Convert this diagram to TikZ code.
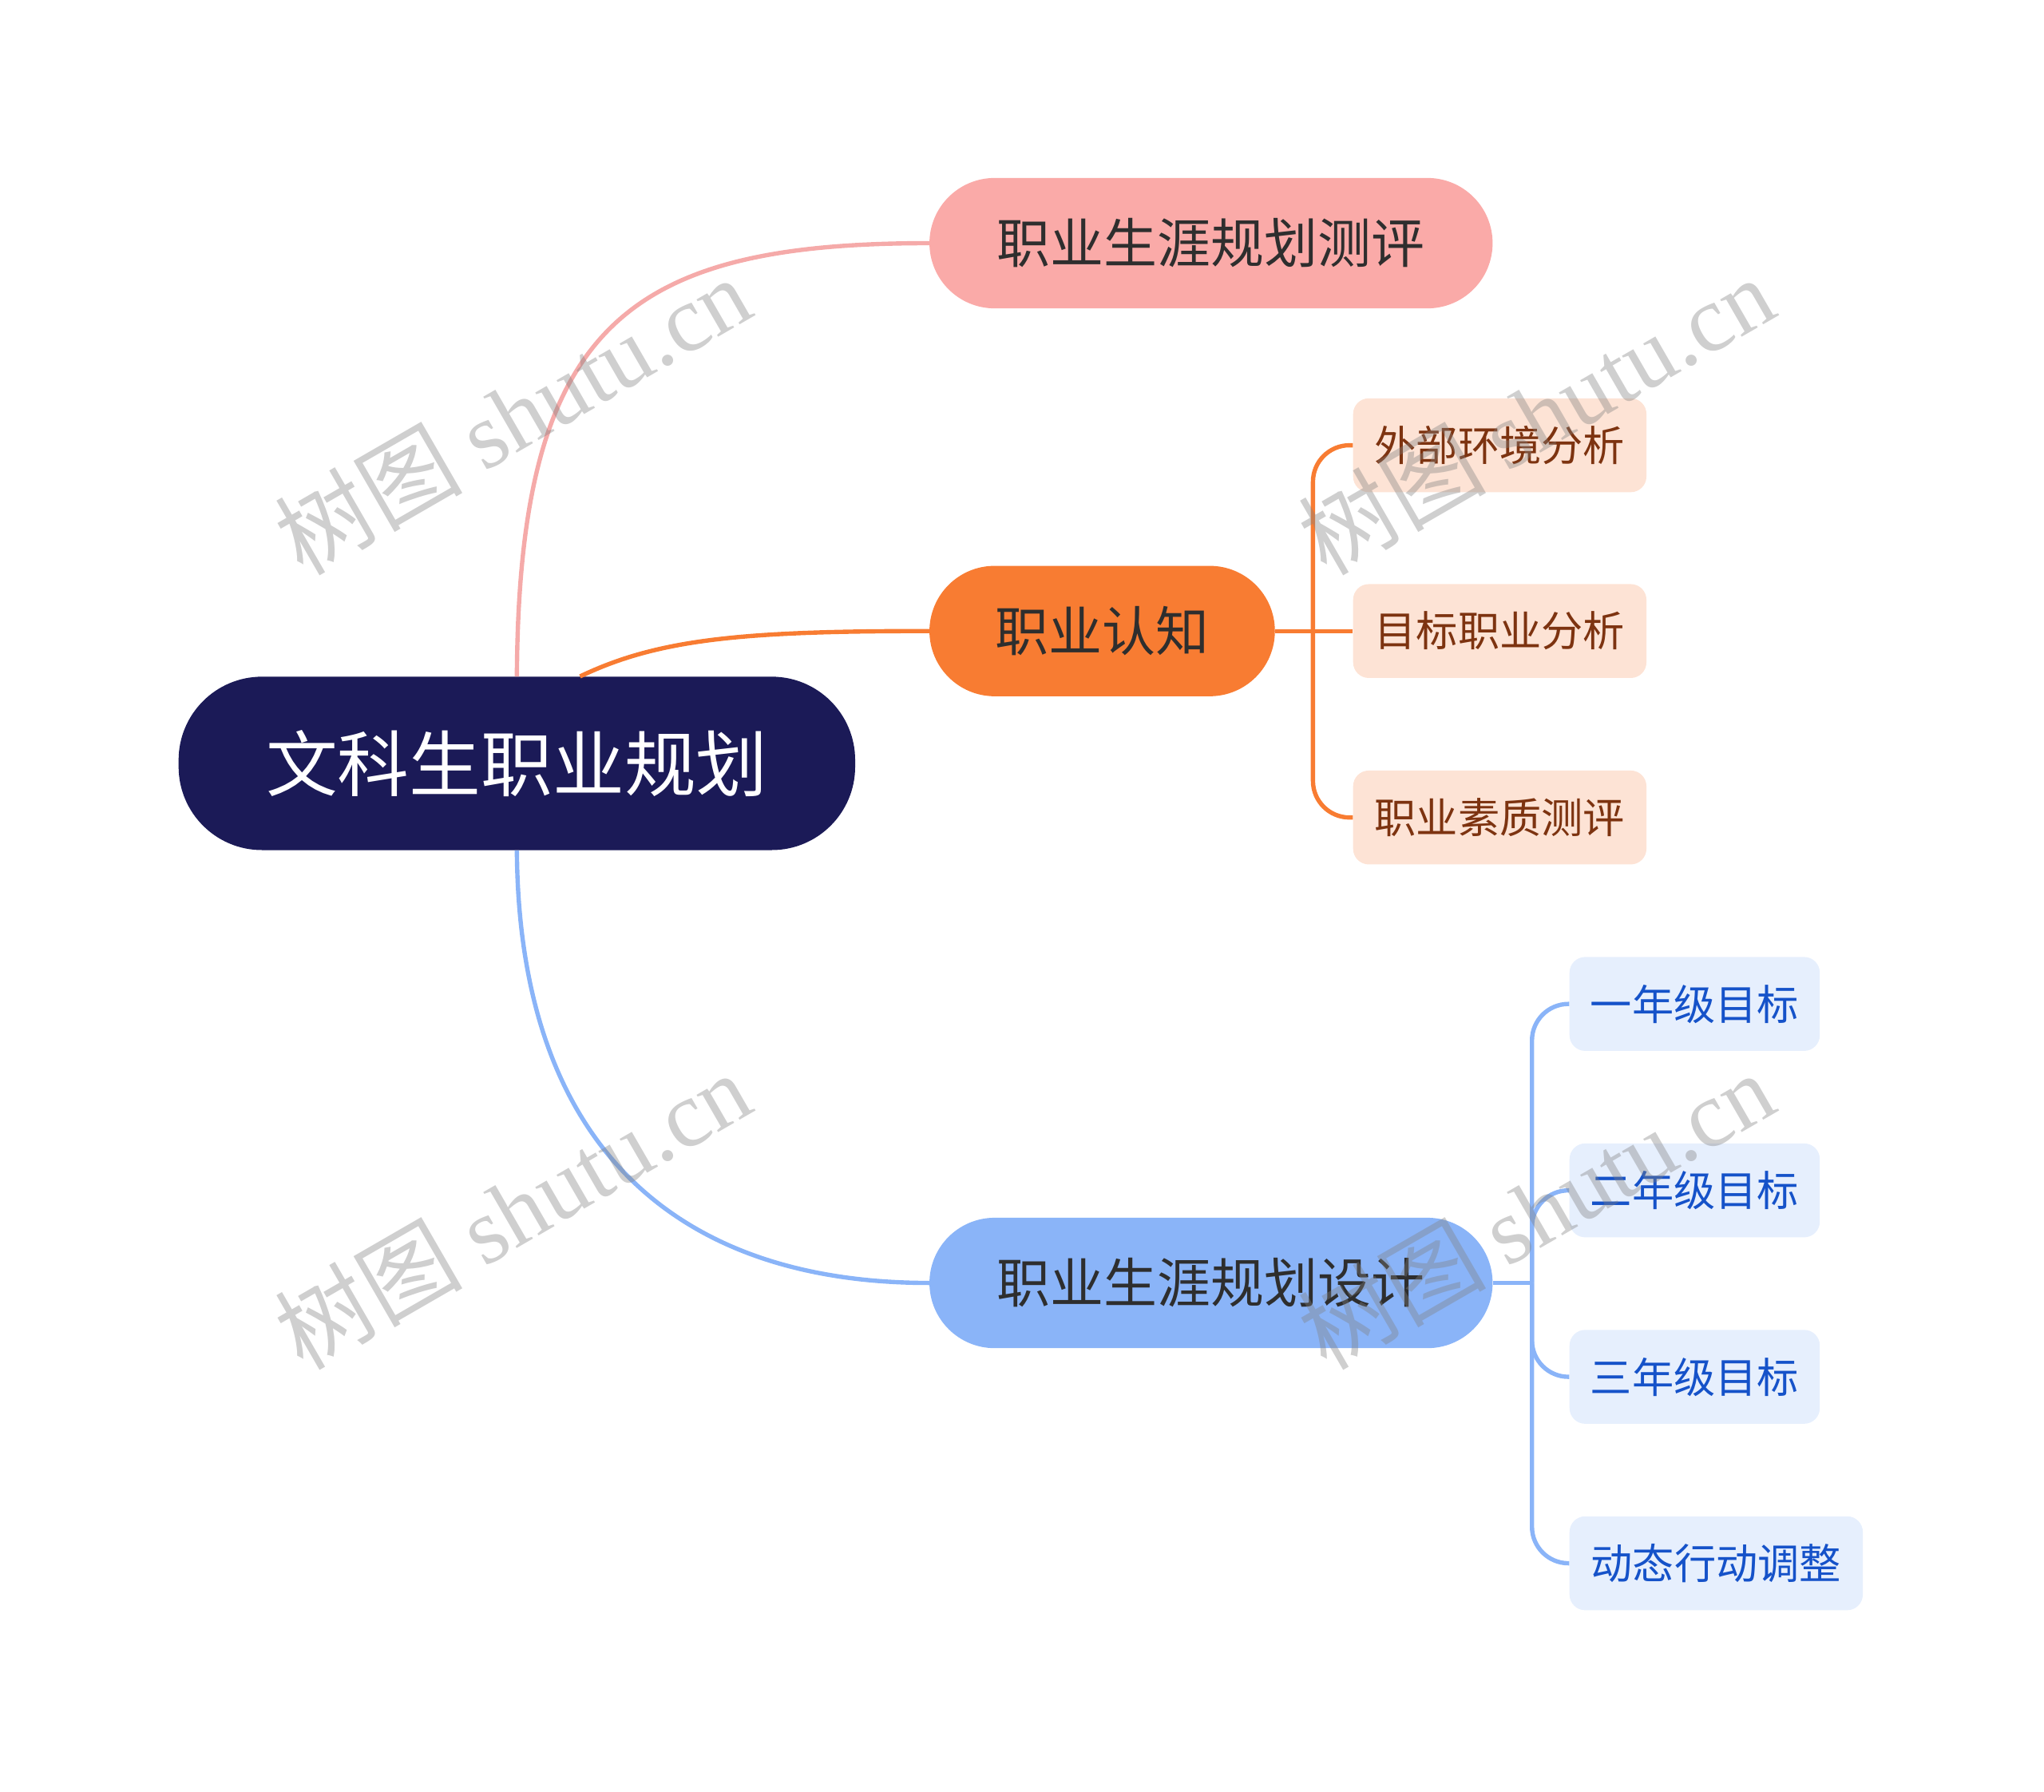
\documentclass[tikz,border=0pt]{standalone}
\usepackage{fontspec}
\setmainfont{Noto Sans CJK SC}
\newfontfamily\wmlatin{Liberation Serif}
\definecolor{rootnavy}{HTML}{1B1A57}
\definecolor{pinkfill}{HTML}{FAAAA8}
\definecolor{pinkline}{HTML}{F5AAA9}
\definecolor{orangefill}{HTML}{F87C32}
\definecolor{peachfill}{HTML}{FDE3D5}
\definecolor{browntext}{HTML}{7D3310}
\definecolor{bluefill}{HTML}{8AB4F8}
\definecolor{paleblue}{HTML}{E6EFFD}
\definecolor{bluetext}{HTML}{1552C9}
\definecolor{darktext}{HTML}{2E2E2E}

\begin{document}
\begin{tikzpicture}[x=1pt, y=-1pt,
    rootnode/.style={fill=rootnavy, text=white, rounded corners=64pt,
      minimum width=519pt, minimum height=133pt, font=\fontsize{55}{60}\selectfont},
    branchnode/.style={rounded corners=50pt, minimum height=100pt,
      text=darktext, font=\fontsize{41}{48}\selectfont},
    orangeleaf/.style={fill=peachfill, text=browntext, rounded corners=12pt,
      minimum width=225pt, minimum height=72pt, font=\fontsize{32}{38}\selectfont},
    blueleaf/.style={fill=paleblue, text=bluetext, rounded corners=12pt,
      minimum width=192pt, minimum height=72pt, font=\fontsize{32}{38}\selectfont},
    link/.style={line width=3.3pt},
    watermark/.style={rotate=30, text=gray, text opacity=0.38,
      font=\fontsize{72}{80}\selectfont}]
  \useasboundingbox (0,0) rectangle (1568,1374);
  % Root
  \node[rootnode] (root) at (396.5,585.5) {文科生职业规划};
  % Main branches
  \node[branchnode, fill=pinkfill, minimum width=432pt] (eval) at (929,186.5) {职业生涯规划测评};
  \node[branchnode, fill=orangefill, minimum width=265pt] (cognize) at (845.5,484) {职业认知};
  \node[branchnode, fill=bluefill, minimum width=432pt] (design) at (929,984) {职业生涯规划设计};
  % Leaves of the orange branch
  \node[orangeleaf] (env) at (1150.5,341.5) {外部环境分析};
  \node[orangeleaf] (target) at (1150.5,484) {目标职业分析};
  \node[orangeleaf] (quality) at (1150.5,627) {职业素质测评};
  % Leaves of the blue branch
  \node[blueleaf] (year1) at (1300,770) {一年级目标};
  \node[blueleaf] (year2) at (1300,913) {二年级目标};
  \node[blueleaf] (year3) at (1300,1056) {三年级目标};
  \node[blueleaf, minimum width=225pt] (adjust) at (1316.5,1199) {动态行动调整};
  % Root links
  \draw[link, pinkline] (root.north) .. controls (398,250) and (480,186.5) .. (eval.west);
  \draw[link, orangefill] (root.54) .. controls (505,490) and (570,484) .. (cognize.west);
  \draw[link, bluefill] (root.south) .. controls (398,880) and (520,984) .. (design.west);
  % Orange bracket
  \coordinate (ojoint) at ([xshift=29pt]cognize.east);
  \draw[link, orangefill] (cognize.east) -- (target.west);
  \draw[link, orangefill, rounded corners=28pt] (ojoint) |- (env.west);
  \draw[link, orangefill, rounded corners=28pt] (ojoint) |- (quality.west);
  % Blue bracket
  \coordinate (bjoint) at ([xshift=30pt]design.east);
  \draw[link, bluefill] (design.east) -- (bjoint);
  \foreach \leaf in {year1,year2,year3,adjust}
    \draw[link, bluefill, rounded corners=28pt] (bjoint) |- (\leaf.west);
  % Watermarks
  \foreach \wx/\wy in {393/318, 1178/318, 393/928, 1178/928}
    \node[watermark] at (\wx,\wy) {树图 {\wmlatin shutu.cn}};
\end{tikzpicture}
\end{document}
